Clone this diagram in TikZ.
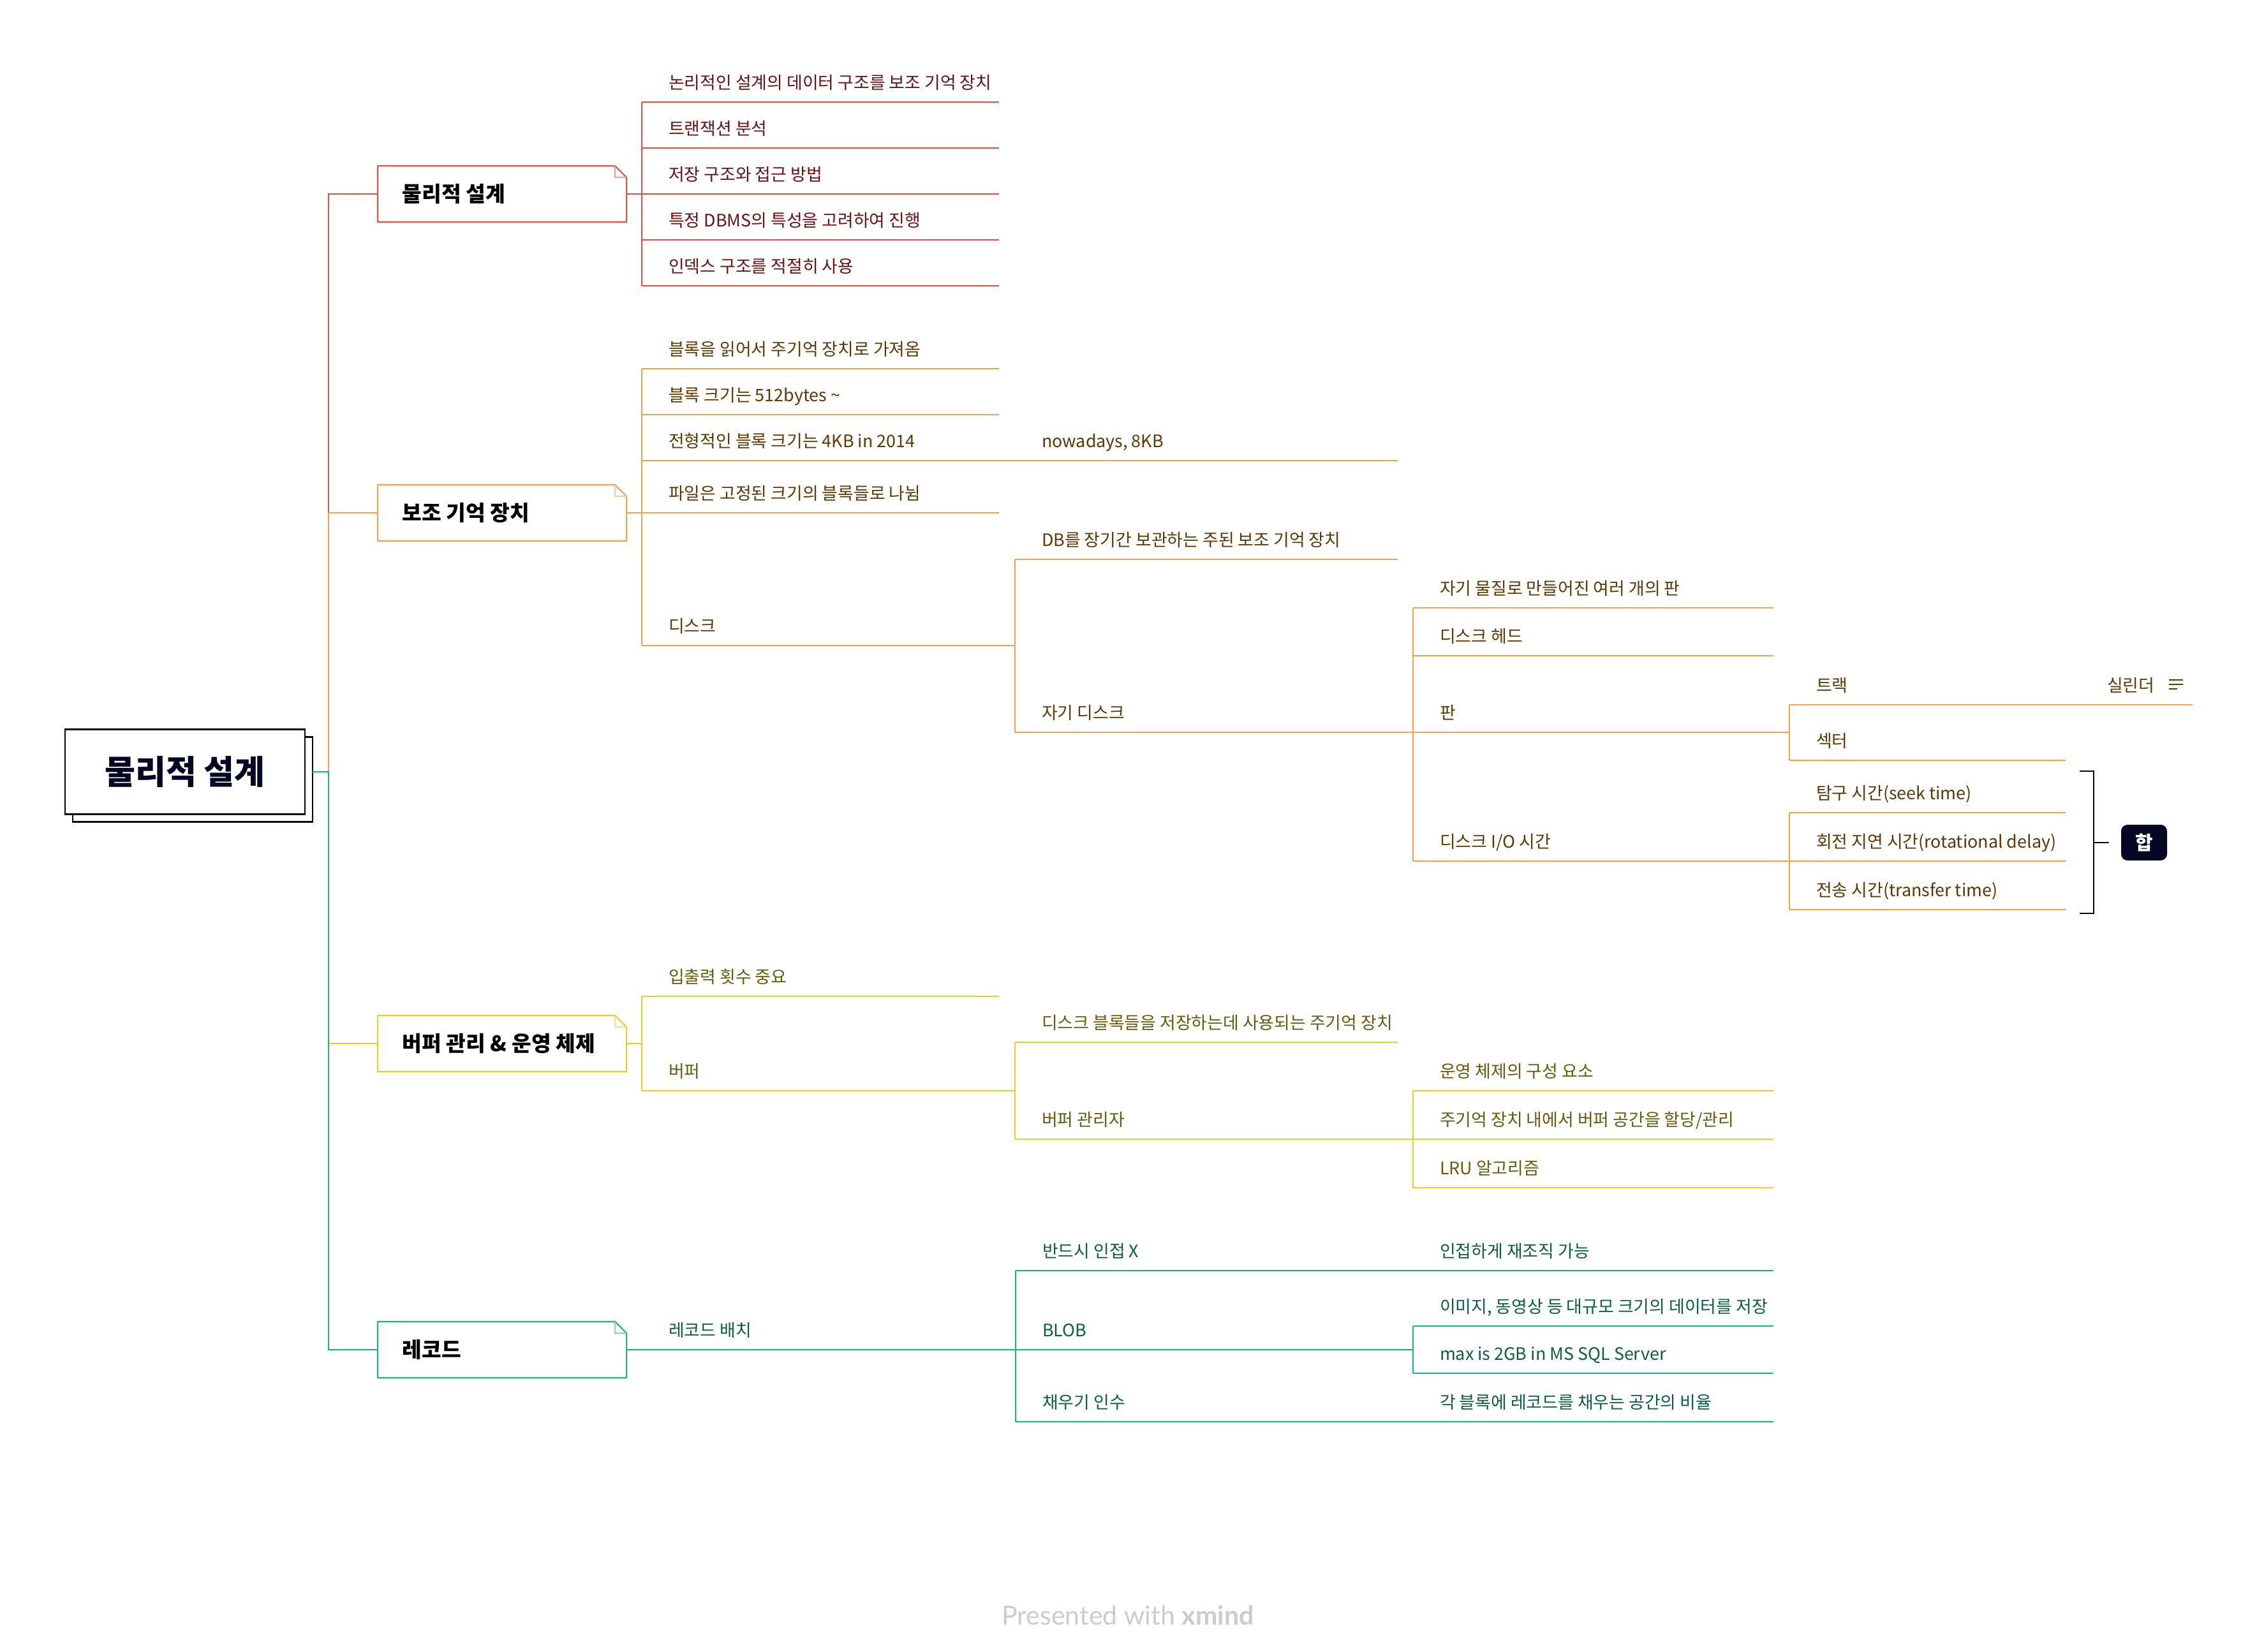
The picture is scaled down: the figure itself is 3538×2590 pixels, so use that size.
\documentclass[tikz,border=0pt]{standalone}
\usepackage{fontspec}
\setmainfont{Noto Sans CJK KR}
\newfontfamily\footfont{Lato}
\usetikzlibrary{calc}
\definecolor{cR}{HTML}{F24B40}
\definecolor{cRt}{HTML}{6E1010}
\definecolor{cO}{HTML}{F5A04B}
\definecolor{cOt}{HTML}{5F3700}
\definecolor{cY}{HTML}{F2CD1E}
\definecolor{cYt}{HTML}{695A0A}
\definecolor{cG}{HTML}{14B982}
\definecolor{cGt}{HTML}{0A5F3C}
\definecolor{navy}{HTML}{050524}
\definecolor{footgray}{HTML}{CCCCCC}
\tikzset{
  ln/.style={line width=0.6pt},
  leaf/.style={anchor=base west, inner sep=0pt, outer sep=0pt, font=\fontsize{7.65}{9}\selectfont},
  lonebox/.style={minimum width=3.9cm, minimum height=0.88cm, inner sep=0pt, outer sep=0pt},
  lonetext/.style={anchor=west, inner sep=0pt, font=\fontsize{9.5}{11}\selectfont\bfseries, text=black},
  rootbox/.style={draw=navy, line width=0.75pt, fill=white, minimum width=3.76cm, minimum height=1.33cm, inner sep=0pt, outer sep=0pt, font=\fontsize{14.8}{17}\selectfont\bfseries, text=navy},
  sumbox/.style={fill=navy, rounded corners=0.1cm, minimum width=0.72cm, minimum height=0.56cm, inner sep=0pt, text=white, font=\fontsize{8.5}{10}\selectfont\bfseries},
}
% name, x-left, x-right, y, line colour, text colour, text
\newcommand\mmtopic[7]{%
  \coordinate (#1-l) at (#2,#4);
  \coordinate (#1-r) at (#3,#4);
  \draw[ln,#5] (#1-l) -- (#1-r);
  \node[leaf,text=#6] (#1) at ({#2+42},{#4-21}) {#7};
}
\newcommand\foldbox[2]{%
  \draw[ln,#2,fill=white] (#1.north west) -- ([xshift=-0.18cm]#1.north east) -- ([yshift=-0.18cm]#1.north east) -- (#1.south east) -- (#1.south west) -- cycle;
  \draw[line width=0.5pt,#2!55] ([xshift=-0.18cm]#1.north east) |- ([yshift=-0.18cm]#1.north east);
}
\begin{document}
\begin{tikzpicture}[x=0.01cm,y=-0.01cm]
\useasboundingbox (0,0) rectangle (3538,2590);

% root
\node[rootbox] (rootsh) at (302,1222) {};
\node[rootbox] (root) at (290,1210) {물리적 설계};
\coordinate (trunk) at (515,1210);

% level-1 boxes (positions)
\node[lonebox] (A) at (787,304) {};
\node[lonebox] (B) at (787,804) {};
\node[lonebox] (C) at (787,1636) {};
\node[lonebox] (D) at (787,2116) {};

% trunk connectors
\draw[ln,cR] (root.east -| rootsh.east) -- (trunk) |- (A.west);
\draw[ln,cO] (root.east -| rootsh.east) -- (trunk) |- (B.west);
\draw[ln,cY] (root.east -| rootsh.east) -- (trunk) |- (C.west);
\draw[ln,cG] (root.east -| rootsh.east) -- (trunk) |- (D.west);

\foldbox{A}{cR}
\foldbox{B}{cO}
\foldbox{C}{cY}
\foldbox{D}{cG}
\node[lonetext] (At) at (630,304) {물리적 설계};
\node[lonetext] (Bt) at (630,804) {보조 기억 장치};
\node[lonetext] (Ct) at (630,1636) {버퍼 관리 \& 운영 체제};
\node[lonetext] (Dt) at (630,2116) {레코드};

% ---------- A: 물리적 설계 ----------
\coordinate (A-r) at (1006,304);
\draw[ln,cR] (A.east) -- (A-r);
\mmtopic{a1}{1006}{1566}{160}{cR}{cRt}{논리적인 설계의 데이터 구조를 보조 기억 장치}
\mmtopic{a2}{1006}{1566}{232}{cR}{cRt}{트랜잭션 분석}
\mmtopic{a3}{1006}{1566}{304}{cR}{cRt}{저장 구조와 접근 방법}
\mmtopic{a4}{1006}{1566}{376}{cR}{cRt}{특정 DBMS의 특성을 고려하여 진행}
\mmtopic{a5}{1006}{1566}{448}{cR}{cRt}{인덱스 구조를 적절히 사용}
\foreach \c in {a1,a2,a3,a4,a5} \draw[ln,cR] (A-r) |- (\c-l);

% ---------- B: 보조 기억 장치 ----------
\coordinate (B-r) at (1006,804);
\draw[ln,cO] (B.east) -- (B-r);
\mmtopic{b1}{1006}{1566}{578}{cO}{cOt}{블록을 읽어서 주기억 장치로 가져옴}
\mmtopic{b2}{1006}{1566}{650}{cO}{cOt}{블록 크기는 512bytes \textasciitilde}
\mmtopic{b3}{1006}{1591}{722}{cO}{cOt}{전형적인 블록 크기는 4KB in 2014}
\mmtopic{b4}{1006}{1566}{804}{cO}{cOt}{파일은 고정된 크기의 블록들로 나뉨}
\mmtopic{b5}{1006}{1591}{1012}{cO}{cOt}{디스크}
\foreach \c in {b1,b2,b3,b4,b5} \draw[ln,cO] (B-r) |- (\c-l);
\mmtopic{b3a}{1591}{2191}{722}{cO}{cOt}{nowadays, 8KB}
\draw[ln,cO] (b3-r) |- (b3a-l);
\mmtopic{b5a}{1591}{2191}{877}{cO}{cOt}{DB를 장기간 보관하는 주된 보조 기억 장치}
\mmtopic{b5b}{1591}{2215}{1148}{cO}{cOt}{자기 디스크}
\foreach \c in {b5a,b5b} \draw[ln,cO] (b5-r) |- (\c-l);
\mmtopic{c1}{2215}{2780}{953}{cO}{cOt}{자기 물질로 만들어진 여러 개의 판}
\mmtopic{c2}{2215}{2780}{1028}{cO}{cOt}{디스크 헤드}
\mmtopic{c3}{2215}{2805}{1148}{cO}{cOt}{판}
\mmtopic{c4}{2215}{2805}{1350}{cO}{cOt}{디스크 I/O 시간}
\foreach \c in {c1,c2,c3,c4} \draw[ln,cO] (b5b-r) |- (\c-l);
\mmtopic{d1}{2805}{3261}{1105}{cO}{cOt}{트랙}
\mmtopic{d2}{2805}{3238}{1192}{cO}{cOt}{섹터}
\foreach \c in {d1,d2} \draw[ln,cO] (c3-r) |- (\c-l);
\mmtopic{d1a}{3261}{3437}{1105}{cO}{cOt}{실린더}
\draw[ln,cO] (d1-r) -- (d1a-l);
% notes icon
\draw[line width=0.6pt,cOt] (3400,1066) -- (3422,1066) (3400,1073) -- (3422,1073) (3400,1080) -- (3413,1080);
\mmtopic{e1}{2805}{3238}{1274}{cO}{cOt}{탐구 시간(seek time)}
\mmtopic{e2}{2805}{3238}{1350}{cO}{cOt}{회전 지연 시간(rotational delay)}
\mmtopic{e3}{2805}{3238}{1426}{cO}{cOt}{전송 시간(transfer time)}
\foreach \c in {e1,e2,e3} \draw[ln,cO] (c4-r) |- (\c-l);
% summary
\draw[line width=0.7pt,navy] (3260,1209) -- (3282,1209) -- (3282,1432) -- (3260,1432);
\coordinate (summid) at (3282,1321);
\node[sumbox] (sum) at (3361,1321) {합};
\draw[line width=0.7pt,navy] (summid) -- ([xshift=-0.18cm]sum.west);

% ---------- C: 버퍼 관리 & 운영 체제 ----------
\coordinate (C-r) at (1006,1636);
\draw[ln,cY] (C.east) -- (C-r);
\mmtopic{f1}{1006}{1566}{1562}{cY}{cYt}{입출력 횟수 중요}
\mmtopic{f2}{1006}{1591}{1710}{cY}{cYt}{버퍼}
\foreach \c in {f1,f2} \draw[ln,cY] (C-r) |- (\c-l);
\mmtopic{g1}{1591}{2191}{1634}{cY}{cYt}{디스크 블록들을 저장하는데 사용되는 주기억 장치}
\mmtopic{g2}{1591}{2215}{1786}{cY}{cYt}{버퍼 관리자}
\foreach \c in {g1,g2} \draw[ln,cY] (f2-r) |- (\c-l);
\mmtopic{h1}{2215}{2780}{1710}{cY}{cYt}{운영 체제의 구성 요소}
\mmtopic{h2}{2215}{2780}{1786}{cY}{cYt}{주기억 장치 내에서 버퍼 공간을 할당/관리}
\mmtopic{h3}{2215}{2780}{1862}{cY}{cYt}{LRU 알고리즘}
\foreach \c in {h1,h2,h3} \draw[ln,cY] (g2-r) |- (\c-l);

% ---------- D: 레코드 ----------
\coordinate (D-r) at (1006,2116);
\draw[ln,cG] (D.east) -- (D-r);
\mmtopic{k1}{1006}{1592}{2116}{cG}{cGt}{레코드 배치}
\draw[ln,cG] (D-r) |- (k1-l);
\mmtopic{m1}{1592}{2215}{1992}{cG}{cGt}{반드시 인접 X}
\mmtopic{m2}{1592}{2215}{2116}{cG}{cGt}{BLOB}
\mmtopic{m3}{1592}{2215}{2229}{cG}{cGt}{채우기 인수}
\foreach \c in {m1,m2,m3} \draw[ln,cG] (k1-r) |- (\c-l);
\mmtopic{m1a}{2215}{2780}{1992}{cG}{cGt}{인접하게 재조직 가능}
\draw[ln,cG] (m1-r) -- (m1a-l);
\mmtopic{m2a}{2215}{2780}{2079}{cG}{cGt}{이미지, 동영상 등 대규모 크기의 데이터를 저장}
\mmtopic{m2b}{2215}{2780}{2153}{cG}{cGt}{max is 2GB in MS SQL Server}
\foreach \c in {m2a,m2b} \draw[ln,cG] (m2-r) |- (\c-l);
\mmtopic{m3a}{2215}{2780}{2229}{cG}{cGt}{각 블록에 레코드를 채우는 공간의 비율}
\draw[ln,cG] (m3-r) -- (m3a-l);

% footer
\node[anchor=base, inner sep=0pt, text=footgray, font=\footfont\fontsize{11.7}{13}\selectfont] (foot) at (1768,2547) {Presented with \textbf{xmind}};
\end{tikzpicture}
\end{document}
